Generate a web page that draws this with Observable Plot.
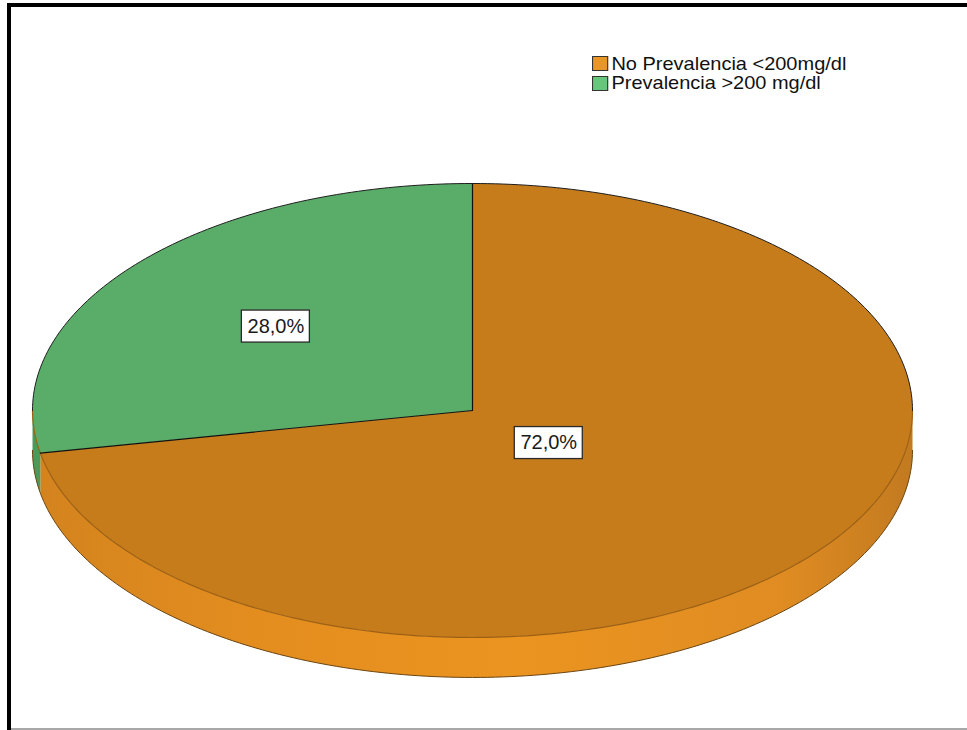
<!DOCTYPE html>
<html>
<head>
<meta charset="utf-8">
<script src="https://cdn.jsdelivr.net/npm/d3@7"></script>
<script src="https://cdn.jsdelivr.net/npm/@observablehq/plot@0.6"></script>
<style>
  body { margin: 0; background: #fff; }
  #wrap { position: relative; width: 967px; height: 730px; overflow: hidden; background: #fff; }
  #frame { position: absolute; left: 7px; top: 3px; width: 980px; height: 740px;
           border-left: 4px solid #000; border-top: 4px solid #000; box-sizing: border-box; pointer-events: none; }
  #bottomline { position: absolute; left: 11px; top: 728px; width: 960px; height: 2px; background: #a8a8a8; }
  #legend { position: absolute; left: 592px; top: 54px; font-family: "Liberation Sans", Arial, sans-serif;
            font-size: 18.5px; color: #111; transform: scaleX(1.08); transform-origin: left top; }
  .row { display: flex; align-items: center; height: 19.5px; white-space: nowrap; }
  .sw { width: 15px; height: 15px; border: 1px solid #333; box-sizing: border-box; margin-right: 3px; }
</style>
</head>
<body>
<div id="wrap">
  <div id="chart"></div>
  <div id="legend"></div>
  <div id="frame"></div>
  <div id="bottomline"></div>
</div>
<script>
// ---- data ----
const categories = ["No Prevalencia <200mg/dl", "Prevalencia >200 mg/dl"];
const percents = [72.0, 28.0];
const labelTexts = ["72,0%", "28,0%"];
const topColors = ["#c77c1c", "#5aad69"];
const legendColors = ["#e8952a", "#66c77c"];

// ---- geometry helpers (unit ellipse, angle clockwise from 12 o'clock) ----
const depth = 0.176;            // thickness of the 3D pie in y units
const labelRadius = [0.225, 0.58];
const total = d3.sum(percents);
let acc = 0;
const slices = categories.map((c, i) => {
  const a0 = acc / total * 360;
  acc += percents[i];
  const a1 = acc / total * 360;
  return {category: c, i, a0, a1, mid: (a0 + a1) / 2};
});
const rad = (a) => a * Math.PI / 180;
const pt = (a, r = 1, dy = 0) => ({u: r * Math.sin(rad(a)), v: -r * Math.cos(rad(a)) + dy});
function arcPts(a0, a1, dy = 0) {
  const out = [];
  const n = Math.max(2, Math.ceil(Math.abs(a1 - a0)));
  for (let k = 0; k <= n; k++) out.push(pt(a0 + (a1 - a0) * k / n, 1, dy));
  return out;
}

// top faces
const topPolys = [];
for (const s of slices) {
  const pts = [{u: 0, v: 0}, ...arcPts(s.a0, s.a1)];
  for (const p of pts) topPolys.push({...p, category: s.category, id: "top" + s.i});
}
// visible side walls (front half: 90..270 deg)
const sidePolys = [];
for (const s of slices) {
  const a = Math.max(s.a0, 90), b = Math.min(s.a1, 270);
  if (b <= a) continue;
  const pts = [...arcPts(a, b), ...arcPts(b, a, depth)];
  for (const p of pts) sidePolys.push({...p, category: s.category, i: s.i, id: "side" + s.i});
}
// outlines
const radii = [];
slices.forEach(s => { radii.push({u: 0, v: 0, id: "r" + s.i}); radii.push({...pt(s.a0), id: "r" + s.i}); });
const backArc = arcPts(-90, 90).map(p => ({...p, id: "back"}));
const frontArc = arcPts(90, 270).map(p => ({...p, id: "front"}));
const bottomArc = arcPts(90, 270, depth).map(p => ({...p, id: "bottom"}));

// labels
const labelData = slices.map(s => {
  const p = pt(s.mid, labelRadius[s.i]);
  return {...p, text: labelTexts[s.i]};
});
const boxW = 68 / 440, boxH = 32 / 227;

const plot = Plot.plot({
  width: 967,
  height: 730,
  margin: 0,
  x: {domain: [-1, 1], range: [32, 912], axis: null},
  y: {domain: [-1, 1], range: [183, 637], axis: null},
  color: {domain: categories, range: topColors},
  marks: [
    Plot.line(sidePolys.filter(d => d.i === 0), {x: "u", y: "v", z: "id", fill: "url(#sideOrange)",
      stroke: "none", curve: "linear-closed"}),
    Plot.line(sidePolys.filter(d => d.i === 1), {x: "u", y: "v", z: "id", fill: "#4c9a5a",
      stroke: "none", curve: "linear-closed"}),
    Plot.line(topPolys, {x: "u", y: "v", z: "id", fill: "category", stroke: "none", curve: "linear-closed"}),
    Plot.line(frontArc, {x: "u", y: "v", stroke: "#9c6014", strokeWidth: 1.2}),
    Plot.line(bottomArc, {x: "u", y: "v", stroke: "#6a4512", strokeWidth: 1}),
    Plot.line(backArc, {x: "u", y: "v", stroke: "#1e1e1e", strokeWidth: 1}),
    Plot.line(radii, {x: "u", y: "v", z: "id", stroke: "#111", strokeWidth: 1.2}),
    Plot.rect(labelData, {x1: d => d.u - boxW / 2, x2: d => d.u + boxW / 2,
      y1: d => d.v - boxH / 2, y2: d => d.v + boxH / 2, fill: "white", stroke: "#2a2a2a", strokeWidth: 1.3}),
    Plot.text(labelData, {x: "u", y: "v", text: "text", fontSize: 20, fill: "#1a1a1a",
      fontFamily: "Liberation Sans, Arial, sans-serif"})
  ]
});

// gradient for the orange side wall
const xs = plot.scale("x");
const defs = d3.select(plot).insert("defs", ":first-child");
const g = defs.append("linearGradient").attr("id", "sideOrange")
  .attr("gradientUnits", "userSpaceOnUse")
  .attr("x1", xs.apply(-1)).attr("x2", xs.apply(1)).attr("y1", 0).attr("y2", 0);
[[0, "#d3831e"], [0.25, "#e38d1f"], [0.55, "#eb9420"], [0.85, "#e08c22"], [1, "#c27a20"]]
  .forEach(([o, c]) => g.append("stop").attr("offset", o).attr("stop-color", c));

document.getElementById("chart").appendChild(plot);

// legend
const legend = d3.select("#legend");
categories.forEach((c, i) => {
  const row = legend.append("div").attr("class", "row");
  row.append("div").attr("class", "sw").style("background", legendColors[i]);
  row.append("span").text(c);
});
</script>
</body>
</html>
